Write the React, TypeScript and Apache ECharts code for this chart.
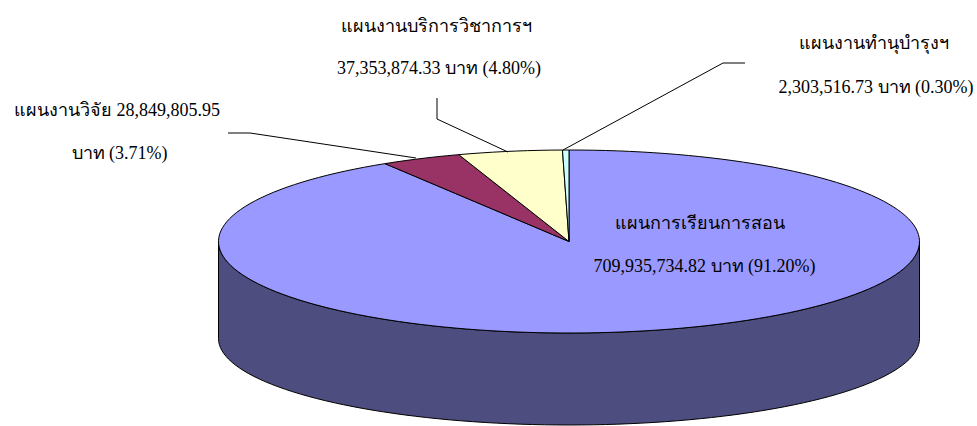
import React, { useEffect, useRef } from "react";
import * as echarts from "echarts";

const categories = ["แผนการเรียนการสอน", "แผนงานวิจัย", "แผนงานบริการวิชาการฯ", "แผนงานทำนุบำรุงฯ"];
const values = [709935734.82, 28849805.95, 37353874.33, 2303516.73];
const percents = ["91.20%", "3.71%", "4.80%", "0.30%"];
const colors = ["#9999FF", "#993366", "#FFFFCC", "#CCFFFF"];
const sideColor = "#4D4D7F";
const unit = "บาท";

const CX = 569, CY = 241.5, RX = 350.5, RY = 91.5, DEPTH = 97, BOTTOM_RY = 86.5;
const FONT = '"Liberation Serif", "Times New Roman", serif';

const total = values.reduce((a, b) => a + b, 0);
const pt = (deg: number, dy = 0, ry = RY) => {
  const r = (deg * Math.PI) / 180;
  return [CX + RX * Math.sin(r), CY - ry * Math.cos(r) + dy];
};
const arc = (from: number, to: number, dy = 0, ry = RY) => {
  const out: number[][] = [];
  const n = Math.max(1, Math.ceil((to - from) / 2));
  for (let i = 0; i <= n; i++) out.push(pt(from + ((to - from) * i) / n, dy, ry));
  return out;
};
const money = (v: number) =>
  v.toLocaleString("en-US", { minimumFractionDigits: 2, maximumFractionDigits: 2 });

let acc = 0;
const sliceData = values.map((v, i) => {
  const start = acc;
  acc += v;
  return { value: [start, acc], itemStyle: { color: colors[i] } };
});

const labelLines: { text: string; x: number; y: number }[] = [
  { text: categories[0], x: 700, y: 223 },
  { text: `${money(values[0])} ${unit} (${percents[0]})`, x: 704.5, y: 266 },
  { text: `${categories[1]} ${money(values[1])}`, x: 117, y: 110 },
  { text: `${unit} (${percents[1]})`, x: 119.5, y: 153 },
  { text: categories[2], x: 436.5, y: 26 },
  { text: `${money(values[2])} ${unit} (${percents[2]})`, x: 439, y: 68 },
  { text: categories[3], x: 873.5, y: 43 },
  { text: `${money(values[3])} ${unit} (${percents[3]})`, x: 876, y: 87 },
];

const leaders: number[][][] = [
  [[228, 133], [250, 133], [416, 158]],
  [[437, 98], [437, 119], [508, 152]],
  [[745, 63], [723, 63], [563, 150]],
];

export default function App() {
  const ref = useRef<HTMLDivElement>(null);
  useEffect(() => {
    document.body.style.margin = "0";
    const chart = echarts.init(ref.current!, undefined, { renderer: "svg" });
    chart.setOption({
      animation: false,
      backgroundColor: "#fff",
      series: [
        {
          type: "custom",
          coordinateSystem: "none",
          silent: true,
          z: 1,
          data: [[total]],
          renderItem: () => ({
            type: "polygon",
            shape: { points: [...arc(90, 270), ...arc(90, 270, DEPTH, BOTTOM_RY).reverse()] },
            style: { fill: sideColor, stroke: "#000", lineWidth: 1 },
          }),
        },
        {
          type: "custom",
          coordinateSystem: "none",
          silent: true,
          z: 2,
          data: sliceData,
          renderItem: (_p: any, api: any) => {
            const a = (api.value(0) / total) * 360;
            const b = (api.value(1) / total) * 360;
            return {
              type: "polygon",
              shape: { points: [[CX, CY], ...arc(a, b)] },
              style: { fill: api.visual("color"), stroke: "#000", lineWidth: 1, lineJoin: "round" },
            };
          },
        },
      ],
      graphic: [
        ...leaders.map((points) => ({
          type: "polyline",
          z: 5,
          silent: true,
          shape: { points },
          style: { stroke: "#000", lineWidth: 1, fill: "none" },
        })),
        ...labelLines.map((l) => ({
          type: "text",
          z: 6,
          silent: true,
          x: l.x,
          y: l.y,
          style: {
            text: l.text,
            fill: "#000",
            font: `18px ${FONT}`,
            align: "center",
            verticalAlign: "middle",
          },
        })),
      ],
    });
    return () => chart.dispose();
  }, []);
  return <div ref={ref} style={{ width: 977, height: 426 }} />;
}
